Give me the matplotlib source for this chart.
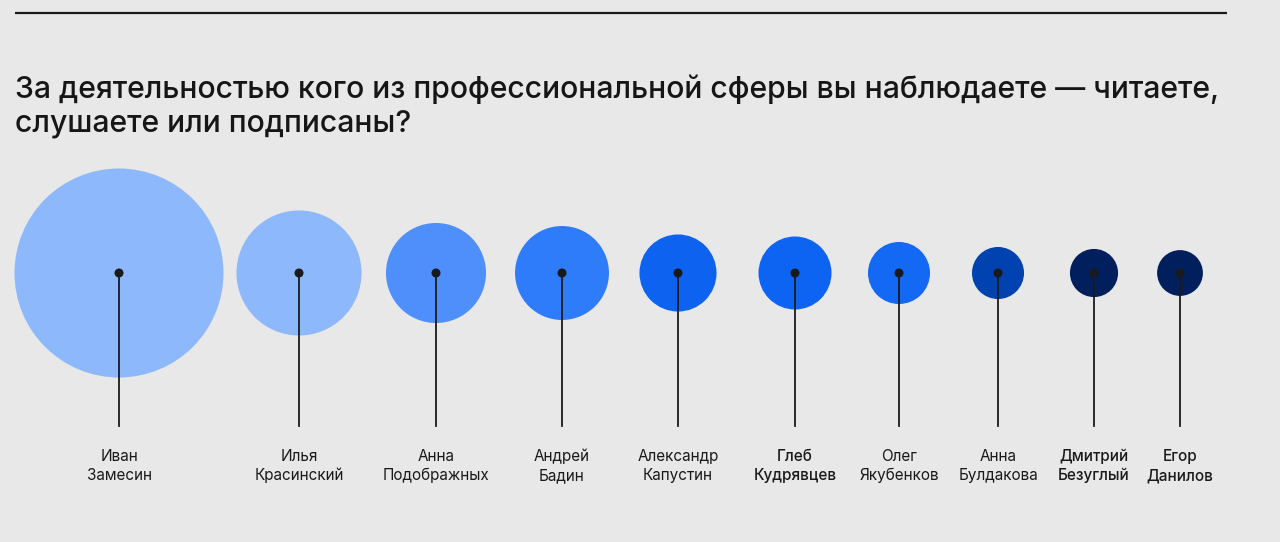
import numpy as np
import matplotlib.pyplot as plt
from matplotlib.patches import Circle

plt.rcParams['font.family'] = ['Inter', 'DejaVu Sans']

# Data: relative audience (circle area, largest = 100)
names = ['Иван\nЗамесин', 'Илья\nКрасинский', 'Анна\nПодображных', 'Андрей\nБадин',
         'Александр\nКапустин', 'Глеб\nКудрявцев', 'Олег\nЯкубенков', 'Анна\nБулдакова',
         'Дмитрий\nБезуглый', 'Егор\nДанилов']
values = [100, 35.8, 22.9, 20.2, 13.6, 12.2, 8.8, 6.2, 5.3, 4.8]
colors = ['#8db8fb', '#8db8fb', '#4f8ffc', '#2f7cfb', '#0d63f0', '#0e64f2',
          '#1368f4', '#0042b0', '#001f5c', '#001f5c']
highlight = [False, False, False, False, False, True, False, False, True, True]

# Layout (pixel coordinates)
x_pos = [119, 299, 436, 562, 678, 795, 899, 998, 1094, 1180]
y_c = 273
r_max = 104.5
W, H = 1280, 542

fig = plt.figure(figsize=(W / 100, H / 100), dpi=100)
fig.patch.set_facecolor('#e8e8e8')
ax = fig.add_axes([0, 0, 1, 1])
ax.set_xlim(0, W)
ax.set_ylim(H, 0)
ax.set_aspect('equal')
ax.axis('off')

ax.plot([15, 1227], [12.5, 12.5], color='#1a1a1a', lw=1.6, solid_capstyle='butt')

# baseline of the last line
ax.text(15, 131, 'За деятельностью кого из профессиональной сферы вы наблюдаете — читаете,\n'
        'слушаете или подписаны?', fontsize=21.7, color='#161616', weight='medium',
        ha='left', va='baseline', linespacing=1.25)

for x, v, c, name, hl in zip(x_pos, values, colors, names, highlight):
    r = r_max * np.sqrt(v / 100)
    ax.add_patch(Circle((x, y_c), r, facecolor=c, edgecolor='none', zorder=1))
    ax.plot([x, x], [y_c, 426], color='#1a1a1a', lw=1.3, zorder=2)
    ax.add_patch(Circle((x, y_c), 4.5, facecolor='#1a1a1a', edgecolor='none', zorder=3))
    ax.text(x, 480, name, ha='center', va='baseline', fontsize=11,
            color='#1a1a1a', linespacing=1.3,
            weight='medium' if hl else 'normal')

fig.savefig('out.png', dpi=100, facecolor=fig.get_facecolor())
